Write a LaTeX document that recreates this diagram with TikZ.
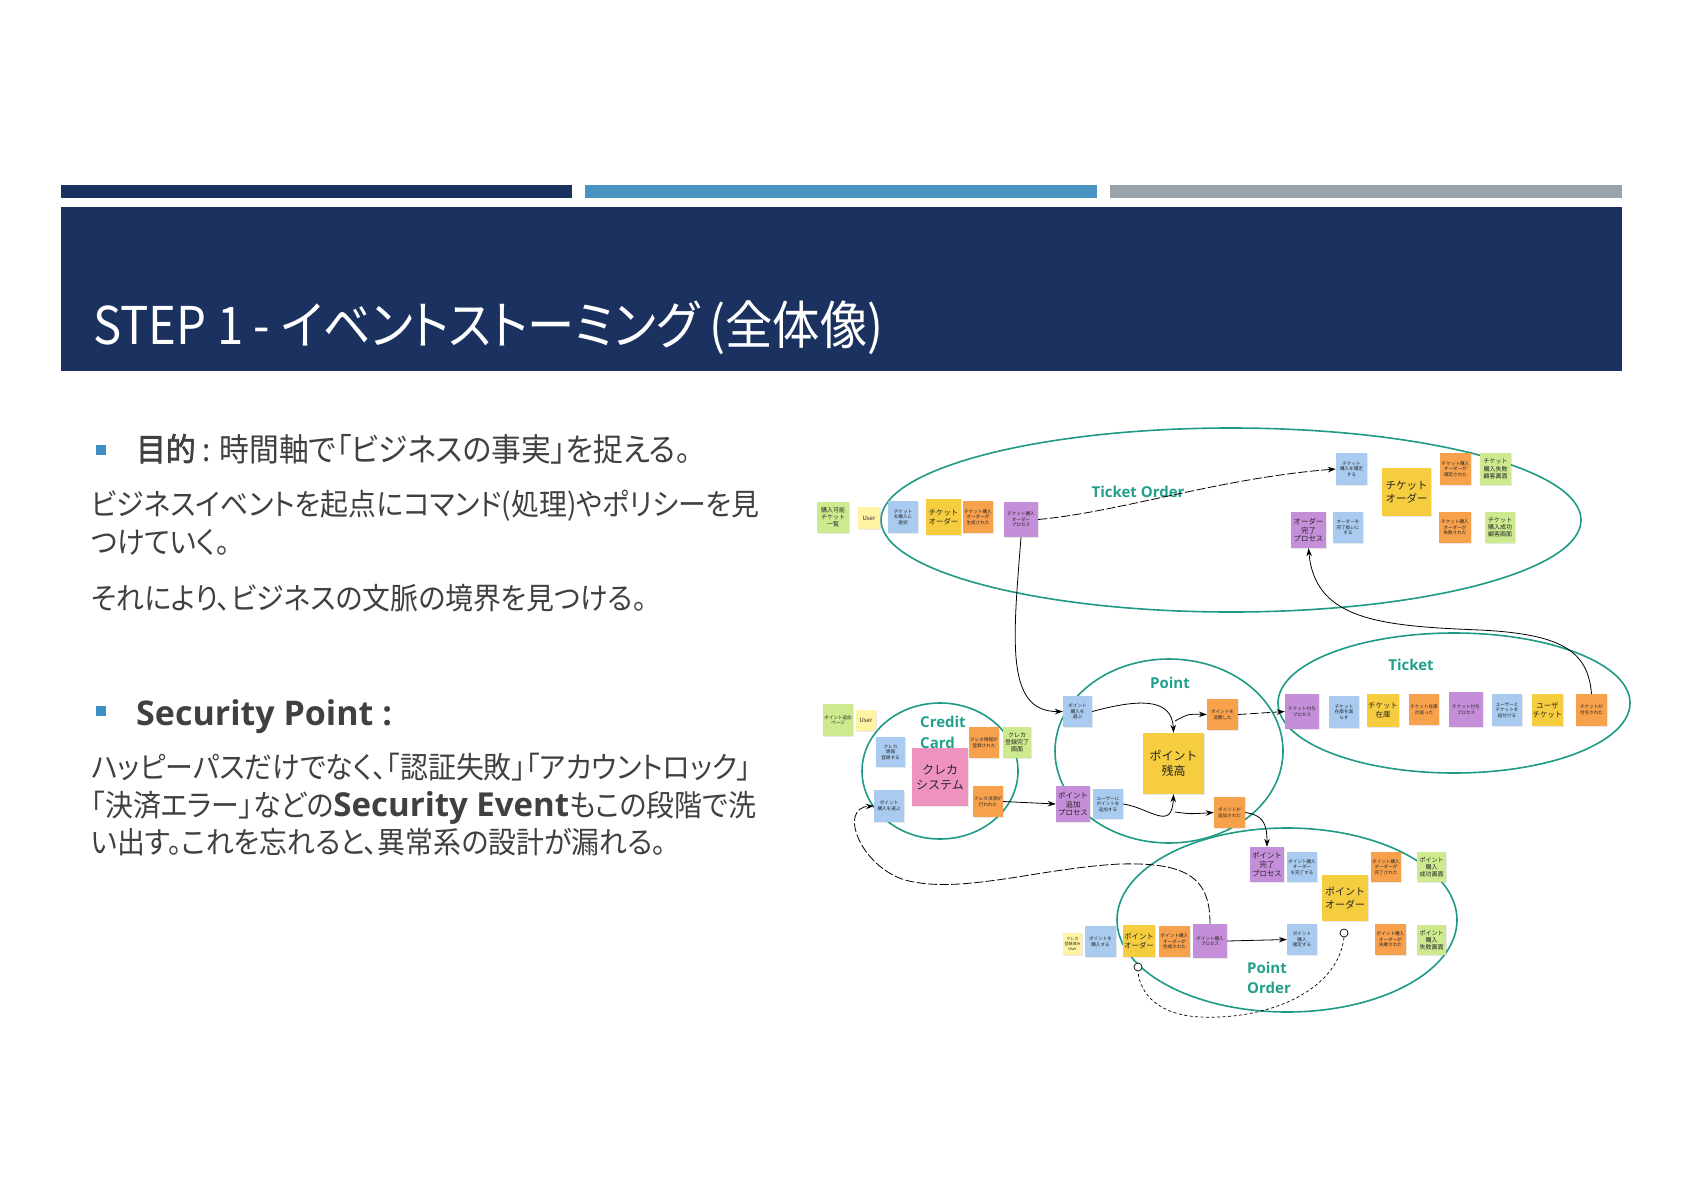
\documentclass[tikz,border=0pt]{standalone}
\usepackage{fontspec}
\setmainfont{Noto Sans CJK JP}[RawFeature=+palt, AutoFakeBold=2, FakeStretch=0.93]
\newfontfamily\titlef{Noto Sans CJK JP}[RawFeature=+palt, FakeStretch=0.91]
\newfontfamily\jpn{Noto Sans CJK JP}
\newfontfamily\osans{Open Sans}
\usetikzlibrary{arrows.meta,shapes.geometric,shadows}
\definecolor{navy}{HTML}{1B3260}
\definecolor{barblue}{HTML}{4A92C2}
\definecolor{bargray}{HTML}{9BA3AA}
\definecolor{txt}{HTML}{404040}
\definecolor{bulletc}{HTML}{3F8FC6}
\definecolor{ctxteal}{HTML}{1E9A86}
\definecolor{lblteal}{HTML}{23A08C}
\definecolor{ngreen}{HTML}{CDEB8E}
\definecolor{npale}{HTML}{FFF4A3}
\definecolor{nblue}{HTML}{A9CBF0}
\definecolor{nyellow}{HTML}{F6CD3E}
\definecolor{norange}{HTML}{F7A14C}
\definecolor{npurple}{HTML}{C48FD8}
\definecolor{npink}{HTML}{EE93C0}
\tikzset{
  note/.style={inner sep=0.5pt, align=center, text=black!85,
    drop shadow={opacity=0.18, shadow xshift=0.6pt, shadow yshift=-1.4pt}},
  nsz/.style 2 args={minimum width=#1, minimum height=#2},
  fa/.style={font=\jpn\fontsize{4.6}{5.6}\selectfont},
  fb/.style={font=\jpn\fontsize{6}{7.2}\selectfont},
  fc/.style={font=\jpn\fontsize{7.4}{8.8}\selectfont},
  fd/.style={font=\jpn\fontsize{10.5}{13}\selectfont},
  fe/.style={font=\jpn\fontsize{12}{15}\selectfont},
  ng/.style={note, fill=ngreen},
  np/.style={note, fill=npale},
  nb/.style={note, fill=nblue},
  ny/.style={note, fill=nyellow},
  no/.style={note, fill=norange},
  nv/.style={note, fill=npurple},
  nk/.style={note, fill=npink},
  ctx/.style={ellipse, draw=ctxteal, line width=1.6pt, inner sep=0},
  ctxlabel/.style={text=lblteal, inner sep=0, font=\osans\bfseries\fontsize{15}{20.5}\selectfont},
  flow/.style={-{Stealth[length=8pt,width=5.5pt]}, line width=0.8pt, black},
  flowd/.style={flow, dash pattern=on 9pt off 2.5pt},
  dotline/.style={line width=0.7pt, black, dash pattern=on 3pt off 2.5pt},
  ring/.style={circle, draw=black, fill=white, line width=0.7pt, minimum size=8, inner sep=0},
  body/.style={text=txt, inner sep=0, anchor=base west, font=\fontsize{30}{36}\selectfont},
  head/.style={text=txt, inner sep=0, anchor=base west, font=\fontsize{32}{38}\selectfont},
  bsq/.style={fill=bulletc, minimum size=10, inner sep=0},
}
\begin{document}
\begin{tikzpicture}[x=1pt,y=-1pt]
\useasboundingbox (0,0) rectangle (1684,1191);
\fill[white] (0,0) rectangle (1684,1191);
% header bars
\fill[navy] (61,185) rectangle (572,198);
\fill[barblue] (585,185) rectangle (1097,198);
\fill[bargray] (1110,185) rectangle (1622,198);
\fill[navy] (61,207) rectangle (1622,371);
\node[anchor=base west, inner sep=0, text=white, font=\titlef\fontsize{52}{60}\selectfont] (title) at (93,344) {STEP 1 - イベントストーミング (全体像)};

% left text
\node[bsq] (bu1) at (101,450) {};
\node[head] (h1) at (136,461) {\textbf{目的} : 時間軸で「ビジネスの事実」を捉える。};
\node[body] (l1) at (91,515) {ビジネスイベントを起点にコマンド(処理)やポリシーを見};
\node[body] (l2) at (91,553) {つけていく。};
\node[body] (l3) at (91,609) {それにより、ビジネスの文脈の境界を見つける。};
\node[bsq] (bu2) at (101,711) {};
\node[text=txt, inner sep=0, anchor=base west, font=\osans\bfseries\fontsize{34}{40}\selectfont] (h2) at (136,725) {Security Point :};
\node[body] (l4) at (91,778) {ハッピーパスだけでなく、「認証失敗」「アカウントロック」};
\node[body] (l5) at (91,816) {「決済エラー」などの{\osans\bfseries\fontsize{33}{38}\selectfont Security Event}もこの段階で洗};
\node[body] (l6) at (91,853) {い出す。これを忘れると、異常系の設計が漏れる。};

% bounded contexts
\node[ctx, minimum width=700, minimum height=184] (eTO) at (1231,520) {};
\node[ctx, minimum width=156, minimum height=136] (eCC) at (940,771) {};
\node[ctx, minimum width=228, minimum height=184] (ePT) at (1169,751) {};
\node[ctx, minimum width=352, minimum height=140] (eTK) at (1454,703) {};
\node[ctx, minimum width=340, minimum height=184] (ePO) at (1287,920) {};

\node[ctxlabel] (lTO) at (1138,492) {Ticket Order};
\node[ctxlabel, anchor=west, align=left] (lCC) at (920,732.5) {Credit\\Card};
\node[ctxlabel] (lPT) at (1170,683) {Point};
\node[ctxlabel] (lTK) at (1411,665) {Ticket};
\node[ctxlabel, anchor=west, align=left] (lPO) at (1247,978) {Point\\Order};

% Ticket Order notes
\node[ng, fb, nsz={32}{31}] (g1) at (833,517.5) {購入可能\\チケット\\一覧};
\node[np, fb, nsz={22}{22}] (yU1) at (869,518) {User};
\node[nb, fa, nsz={30}{32}] (b1) at (903,517) {チケット\\を購入に\\選択};
\node[ny, fc, nsz={35}{36}] (Y1) at (943.5,517) {チケット\\オーダー};
\node[no, fa, nsz={30}{32}] (o1) at (978,517) {チケット購入\\オーダーが\\生成された};
\node[nv, fa, nsz={34}{35}] (p1) at (1021,519.5) {チケット購入\\オーダー\\プロセス};
\node[nb, fa, nsz={31}{32}] (b2) at (1351.5,469) {チケット\\購入を確定\\する};
\node[ny, fd, nsz={49}{48}] (YY) at (1406.5,492) {チケット\\オーダー};
\node[no, fa, nsz={31}{32}] (o2) at (1455.5,469) {チケット購入\\オーダーが\\確定された};
\node[ng, fb, nsz={31}{32}] (g2) at (1495.5,469) {チケット\\購入失敗\\顧客画面};
\node[nv, fc, nsz={35}{36}] (p2) at (1308.5,530) {オーダー\\完了\\プロセス};
\node[nb, fa, nsz={30}{31}] (b3) at (1348,527.5) {オーダーを\\完了扱いに\\する};
\node[no, fa, nsz={32}{31}] (o3) at (1455,527.5) {チケット購入\\オーダーが\\失敗された};
\node[ng, fb, nsz={30}{31}] (g3) at (1500,527.5) {チケット\\購入成功\\顧客画面};

% Credit Card notes
\node[ng, fa, nsz={30}{32}] (gC) at (838,720) {ポイント追加\\ページ};
\node[np, fb, nsz={20}{21}] (yC) at (866,720.5) {User};
\node[nb, fa, nsz={29}{30}] (bC1) at (890.5,752) {クレカ\\情報\\登録する};
\node[nk, fe, nsz={56}{58}] (pink) at (940,777) {クレカ\\システム};
\node[no, fa, nsz={30}{31}] (oC1) at (984,742.5) {クレカ情報が\\登録された};
\node[ng, fb, nsz={28}{31}] (gC2) at (1017,742.5) {クレカ\\登録完了\\画面};
\node[nb, fa, nsz={30}{32}] (bC2) at (889,806) {ポイント\\購入を選ぶ};
\node[no, fa, nsz={30}{31}] (oC2) at (988,801.5) {クレカ決済が\\行われた};

% Point notes
\node[nb, fa, nsz={29}{31}] (bP1) at (1077.5,711.5) {ポイント\\購入を\\選ぶ};
\node[no, fa, nsz={31}{31}] (oP1) at (1222.5,714.5) {ポイントを\\消費した};
\node[ny, fe, nsz={61}{61}] (YP) at (1173.5,763.5) {ポイント\\残高};
\node[nv, fc, nsz={34}{36}] (pP) at (1073,804) {ポイント\\追加\\プロセス};
\node[nb, fa, nsz={30}{30}] (bP2) at (1108,804) {ユーザーに\\ポイントを\\追加する};
\node[no, fa, nsz={31}{31}] (oP2) at (1229.5,812.5) {ポイントが\\追加された};

% Ticket notes
\node[nv, fa, nsz={34}{35}] (pT1) at (1302,711.5) {チケット付与\\プロセス};
\node[nb, fa, nsz={30}{32}] (bT1) at (1344,712) {チケット\\在庫を減\\らす};
\node[ny, fc, nsz={32}{33}] (YT1) at (1383,710.5) {チケット\\在庫};
\node[no, fa, nsz={30}{31}] (oT1) at (1424,709.5) {チケット在庫\\が減った};
\node[nv, fa, nsz={34}{35}] (pT2) at (1466,709.5) {チケット付与\\プロセス};
\node[nb, fa, nsz={30}{32}] (bT2) at (1507,710) {ユーザーと\\チケットを\\紐付ける};
\node[ny, fc, nsz={31}{32}] (YT2) at (1547.5,710) {ユーザ\\チケット};
\node[no, fa, nsz={31}{32}] (oT2) at (1591.5,710) {チケットが\\付与された};

% Point Order notes
\node[np, font=\jpn\fontsize{4}{5}\selectfont, nsz={19}{22}] (yPO) at (1072.5,944) {クレカ\\登録済み\\User};
\node[nb, fa, nsz={31}{31}] (bPO1) at (1100.5,941.5) {ポイントを\\購入する};
\node[ny, fc, nsz={32}{32}] (YPO1) at (1139,941) {ポイント\\オーダー};
\node[no, fa, nsz={31}{31}] (oPO1) at (1174.5,941.5) {ポイント購入\\オーダーが\\作成された};
\node[nv, fa, nsz={34}{34}] (pPO1) at (1210,941) {ポイント購入\\プロセス};
\node[nb, fa, nsz={30}{31}] (bPO2) at (1302,939.5) {ポイント\\購入\\確定する};
\node[nv, fc, nsz={34}{35}] (pPO2) at (1267,864.5) {ポイント\\完了\\プロセス};
\node[nb, fa, nsz={30}{30}] (bPO3) at (1302,867) {ポイント購入\\オーダー\\を完了する};
\node[ny, font=\jpn\fontsize{10}{12.5}\selectfont, nsz={46}{46}] (YPO) at (1345,898) {ポイント\\オーダー};
\node[no, fa, nsz={30}{30}] (oPO2) at (1386,867) {ポイント購入\\オーダーが\\完了された};
\node[ng, fb, nsz={29}{30}] (gPO1) at (1431.5,867) {ポイント\\購入\\成功画面};
\node[no, fa, nsz={31}{31}] (oPO3) at (1390.5,939.5) {ポイント購入\\オーダーが\\失敗された};
\node[ng, fb, nsz={29}{30}] (gPO2) at (1431.5,940) {ポイント\\購入\\失敗画面};

% connectors
\coordinate (jP1) at (1175,721);
\coordinate (jP2) at (1175,812);
\draw[flowd] (p1.east) .. controls (1120,512) and (1220,478) .. (b2.west);
\draw[flow] (p1.south) .. controls (1013,640) and (1005,712) .. (bP1.west);
\draw[flow] (oT2.north) .. controls (1588,650) and (1560,634) .. (1480,630) .. controls (1380,626) and (1315,620) .. (p2.south);
\draw[flow] (oC2.east) -- (pP.west);
\draw[flowd] (pPO1.north) .. controls (1210,880) and (1190,862) .. (1120,864) .. controls (1040,868) and (960,895) .. (905,880) .. controls (860,866) and (838,808) .. (bC2.west);
\draw[flow] (bP1.east) .. controls (1135,700) and (1172,696) .. (YP.north);
\draw[flow] (jP1) .. controls (1188,714) .. (oP1.west);
\draw[flowd] (oP1.east) -- (pT1.west);
\draw[flow] (bP2.east) .. controls (1150,808) and (1172,832) .. (YP.south);
\draw[flow] (jP2) .. controls (1190,814) .. (oP2.west);
\draw[flow] (oP2.east) .. controls (1262,815) and (1267,822) .. (pPO2.north);
\draw[flow] (pPO1.east) -- (bPO2.west);
\node[ring] (c1) at (1344,933) {};
\node[ring] (c2) at (1138,967) {};
\draw[dotline] (c1.south) .. controls (1338,990) and (1270,1020) .. (1200,1017) .. controls (1160,1015) and (1140,995) .. (c2.south);
\end{tikzpicture}
\end{document}
